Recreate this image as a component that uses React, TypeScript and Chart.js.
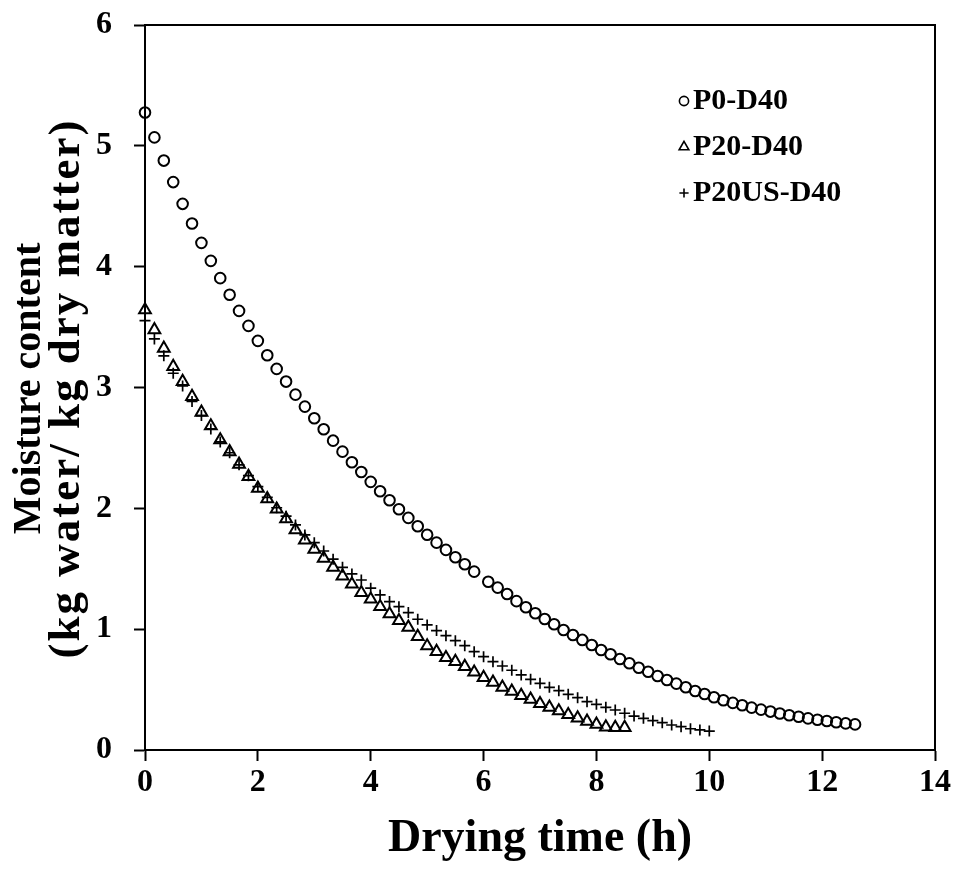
import React, { useEffect, useRef } from 'react';
import { Chart, registerables } from 'chart.js';

Chart.register(...registerables);

const FONT = '"Times New Roman", "Liberation Serif", Times, serif';

// Drying time in minutes and moisture content (kg water / kg dry matter)
const P0_TIME_MIN = [
  0, 10, 20, 30, 40, 50, 60, 70, 80, 90, 100, 110, 120, 130, 140, 150, 160, 170, 180, 190,
  200, 210, 220, 230, 240, 250, 260, 270, 280, 290, 300, 310, 320, 330, 340, 350,
  365, 375, 385, 395, 405, 415, 425, 435, 445, 455, 465, 475, 485, 495, 505, 515, 525, 535,
  545, 555, 565, 575, 585, 595, 605, 615, 625, 635, 645, 655, 665, 675, 685, 695, 705, 715,
  725, 735, 745, 755,
];
const P0_MOISTURE = [
  5.276, 5.07, 4.878, 4.70, 4.52, 4.357, 4.197, 4.048, 3.905, 3.767, 3.634, 3.51, 3.386, 3.267,
  3.154, 3.049, 2.941, 2.842, 2.746, 2.655, 2.56, 2.469, 2.382, 2.301, 2.219, 2.142, 2.067,
  1.993, 1.921, 1.852, 1.782, 1.716, 1.656, 1.595, 1.537, 1.476,
  1.393, 1.344, 1.291, 1.232, 1.181, 1.132, 1.084, 1.041, 0.993, 0.952, 0.911, 0.869, 0.828,
  0.792, 0.753, 0.718, 0.681, 0.648, 0.613, 0.579, 0.549, 0.519, 0.488, 0.464, 0.436, 0.412,
  0.39, 0.37, 0.351, 0.334, 0.318, 0.302, 0.288, 0.275, 0.262, 0.25, 0.24, 0.23, 0.22, 0.212,
];

const P20_TIME_MIN = [
  0, 10, 20, 30, 40, 50, 60, 70, 80, 90, 100, 110, 120, 130, 140, 150, 160, 170, 180, 190,
  200, 210, 220, 230, 240, 250, 260, 270, 280, 290, 300, 310, 320, 330, 340, 350, 360, 370,
  380, 390, 400, 410, 420, 430, 440, 450, 460, 470, 480, 490, 500, 510,
];
const P20_MOISTURE = [
  3.642, 3.477, 3.325, 3.173, 3.049, 2.925, 2.795, 2.682, 2.566, 2.467, 2.365, 2.263, 2.166,
  2.078, 1.993, 1.912, 1.821, 1.738, 1.661, 1.587, 1.512, 1.44, 1.372, 1.302, 1.248, 1.186,
  1.126, 1.07, 1.016, 0.938, 0.861, 0.814, 0.764, 0.731, 0.69, 0.644, 0.599, 0.56, 0.519,
  0.486, 0.45, 0.42, 0.383, 0.353, 0.323, 0.292, 0.265, 0.238, 0.213, 0.19, 0.185, 0.185,
];

const P20US_TIME_MIN = [
  0, 10, 20, 30, 40, 50, 60, 70, 80, 90, 100, 110, 120, 130, 140, 150, 160, 170, 180, 190,
  200, 210, 220, 230, 240, 250, 260, 270, 280, 290, 300, 310, 320, 330, 340, 350, 360, 370,
  380, 390, 400, 410, 420, 430, 440, 450, 460, 470, 480, 490, 500, 510, 520, 530, 540, 550,
  560, 570, 580, 590, 600,
];
const P20US_MOISTURE = [
  3.554, 3.402, 3.262, 3.118, 3.013, 2.884, 2.768, 2.657, 2.55, 2.46, 2.36, 2.27, 2.18, 2.09,
  2.005, 1.935, 1.863, 1.78, 1.716, 1.647, 1.579, 1.512, 1.457, 1.407, 1.339, 1.283, 1.228,
  1.186, 1.137, 1.082, 1.035, 0.988, 0.946, 0.905, 0.863, 0.814, 0.772, 0.731, 0.695, 0.66,
  0.621, 0.585, 0.552, 0.519, 0.491, 0.461, 0.433, 0.4, 0.378, 0.353, 0.331, 0.304, 0.281,
  0.262, 0.243, 0.226, 0.207, 0.193, 0.176, 0.166, 0.157,
];

const SERIES_LABELS = ['P0-D40', 'P20-D40', 'P20US-D40'];
const X_TITLE = 'Drying time (h)';
const Y_TITLE = ['Moisture content', '(kg water/ kg dry matter)'];

function toPoints(times: number[], values: number[]) {
  return times.map((m, i) => ({ x: m / 60, y: values[i] }));
}

function drawMarker(ctx: CanvasRenderingContext2D, style: string, x: number, y: number, r: number) {
  ctx.beginPath();
  if (style === 'circle') {
    ctx.arc(x, y, r, 0, Math.PI * 2);
  } else if (style === 'triangle') {
    ctx.moveTo(x, y - r);
    ctx.lineTo(x + r * 0.866, y + r * 0.5);
    ctx.lineTo(x - r * 0.866, y + r * 0.5);
    ctx.closePath();
  } else {
    ctx.moveTo(x - r, y);
    ctx.lineTo(x + r, y);
    ctx.moveTo(x, y - r);
    ctx.lineTo(x, y + r);
  }
  ctx.stroke();
}

const insideLegend = {
  id: 'insideLegend',
  afterDraw(chart: any) {
    const ctx: CanvasRenderingContext2D = chart.ctx;
    const styles = ['circle', 'triangle', 'cross'];
    const sizes = [4.6, 5.6, 4.6];
    ctx.save();
    ctx.font = `bold 30px ${FONT}`;
    ctx.fillStyle = '#000';
    ctx.strokeStyle = '#000';
    ctx.lineWidth = 1.6;
    ctx.textBaseline = 'middle';
    ctx.textAlign = 'left';
    SERIES_LABELS.forEach((label, i) => {
      const y = 101 + i * 46;
      drawMarker(ctx, styles[i], 684, y, sizes[i]);
      ctx.fillText(label, 693, y);
    });
    ctx.restore();
  },
};

// Two-line rotated y-axis title, centred on the plot area
const yAxisTitle = {
  id: 'yAxisTitle',
  afterDraw(chart: any) {
    const ctx: CanvasRenderingContext2D = chart.ctx;
    const area = chart.chartArea;
    const cy = (area.top + area.bottom) / 2 + 1;
    const lines = [
      { text: Y_TITLE[0], x: 30, size: 40, spacing: '0px' },
      { text: Y_TITLE[1], x: 67, size: 45, spacing: '2px' },
    ];
    ctx.save();
    ctx.fillStyle = '#000';
    ctx.textAlign = 'center';
    ctx.textBaseline = 'middle';
    lines.forEach((l) => {
      ctx.save();
      ctx.font = `bold ${l.size}px ${FONT}`;
      (ctx as any).letterSpacing = l.spacing;
      ctx.translate(l.x, cy);
      ctx.rotate(-Math.PI / 2);
      ctx.fillText(l.text, 0, 0);
      ctx.restore();
    });
    ctx.restore();
  },
};

function fixSize(prop: 'width' | 'height', size: number) {
  return (scale: any) => {
    scale[prop] = size;
    scale.paddingTop = 0;
    scale.paddingBottom = 0;
    scale.paddingLeft = 0;
    scale.paddingRight = 0;
  };
}

export default function App() {
  const canvasRef = useRef<HTMLCanvasElement | null>(null);

  useEffect(() => {
    const canvas = canvasRef.current;
    if (!canvas) return;
    const tickFont = { family: FONT, size: 32, weight: 'bold' as const };
    const markerCommon = {
      pointBorderColor: '#000',
      pointBackgroundColor: 'rgba(0,0,0,0)',
      showLine: false,
      clip: false as any,
    };
    const chart = new Chart(canvas, {
      type: 'scatter',
      data: {
        datasets: [
          {
            label: SERIES_LABELS[0],
            data: toPoints(P0_TIME_MIN, P0_MOISTURE),
            pointStyle: 'circle',
            pointRadius: 5.3,
            pointBorderWidth: 2,
            ...markerCommon,
          },
          {
            label: SERIES_LABELS[1],
            data: toPoints(P20_TIME_MIN, P20_MOISTURE),
            pointStyle: 'triangle',
            pointRadius: 6.8,
            pointBorderWidth: 2,
            ...markerCommon,
          },
          {
            label: SERIES_LABELS[2],
            data: toPoints(P20US_TIME_MIN, P20US_MOISTURE),
            pointStyle: 'cross',
            pointRadius: 5.5,
            pointBorderWidth: 1.7,
            ...markerCommon,
          },
        ],
      },
      options: {
        responsive: false,
        animation: false,
        events: [],
        layout: { padding: 0 },
        plugins: {
          legend: { display: false },
          tooltip: { enabled: false },
        },
        scales: {
          x: {
            type: 'linear',
            position: 'bottom',
            min: 0,
            max: 14,
            ticks: { stepSize: 2, padding: 3, color: '#000', font: tickFont },
            grid: { drawOnChartArea: false, drawTicks: true, tickLength: 11, tickWidth: 2, tickColor: '#000' },
            border: { display: true, color: '#000', width: 2 },
            title: {
              display: true,
              text: X_TITLE,
              color: '#000',
              font: { family: FONT, size: 46, weight: 'bold', lineHeight: 1 },
              padding: { top: 0, bottom: 9 },
            },
            afterFit: fixSize('height', 121),
          },
          y: {
            type: 'linear',
            position: 'left',
            min: 0,
            max: 6,
            ticks: { stepSize: 1, padding: 22, color: '#000', font: tickFont },
            grid: { drawOnChartArea: false, drawTicks: true, tickLength: 11, tickWidth: 2, tickColor: '#000' },
            border: { display: true, color: '#000', width: 2 },
            title: { display: false },
            afterFit: fixSize('width', 145),
          },
          x2: {
            type: 'linear',
            position: 'top',
            min: 0,
            max: 14,
            ticks: { display: false },
            grid: { display: false },
            border: { display: true, color: '#000', width: 2 },
            afterFit: fixSize('height', 25),
          },
          y2: {
            type: 'linear',
            position: 'right',
            min: 0,
            max: 6,
            ticks: { display: false },
            grid: { display: false },
            border: { display: true, color: '#000', width: 2 },
            afterFit: fixSize('width', 25),
          },
        },
      } as any,
      plugins: [insideLegend, yAxisTitle],
    });
    return () => chart.destroy();
  }, []);

  return (
    <div style={{ position: 'absolute', left: 0, top: 0, width: 960, height: 871, background: '#fff' }}>
      <canvas ref={canvasRef} width={960} height={871} style={{ display: 'block' }} />
    </div>
  );
}
